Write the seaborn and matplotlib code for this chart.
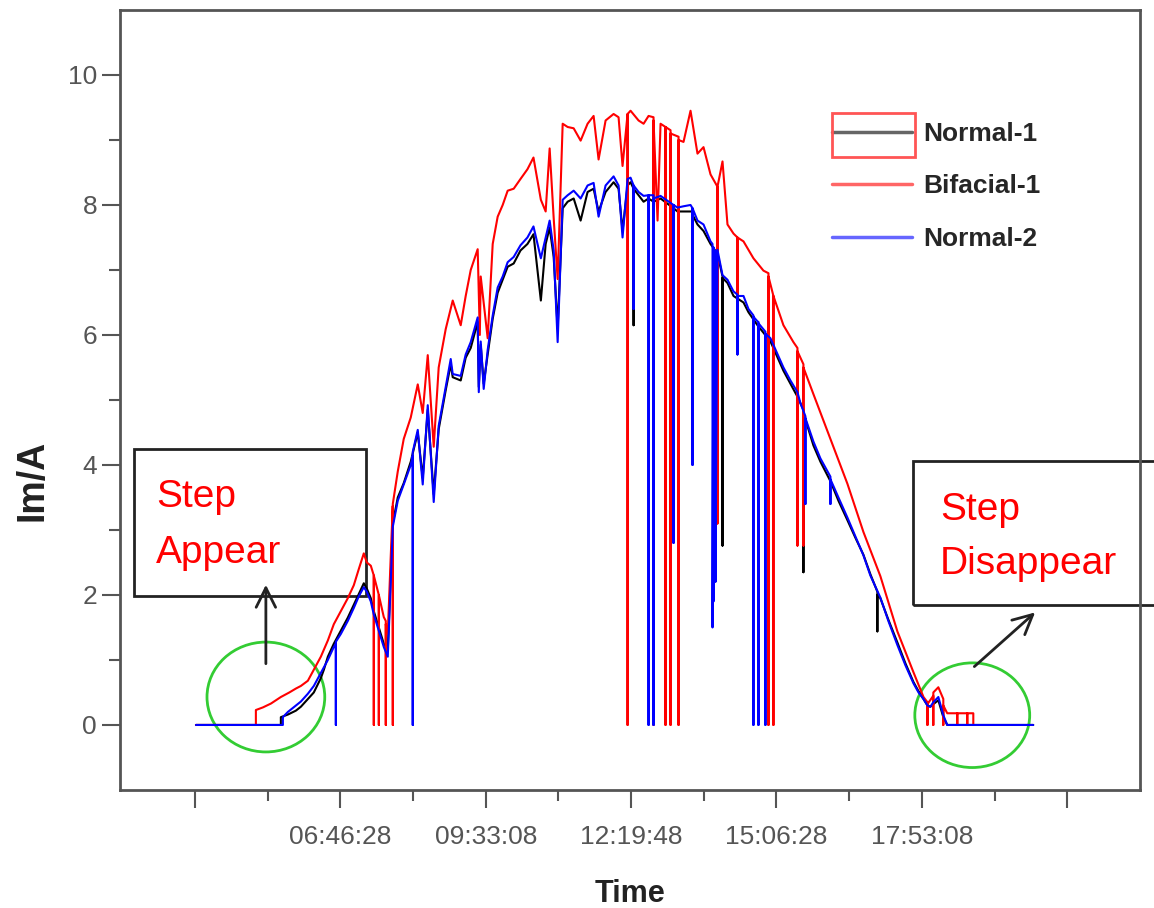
import matplotlib
matplotlib.use("Agg")
import matplotlib.pyplot as plt
from matplotlib.patches import Rectangle, Ellipse
from matplotlib.lines import Line2D
from matplotlib.ticker import FixedLocator
import pandas as pd
import seaborn as sns

# (time in decimal hours, Im in A)
normal1 = [
    (4.016, 0), (5.638, 0), (5.638, 0.12), (5.772, 0.16), (5.925, 0.22), (6.020, 0.28),
    (6.154, 0.40), (6.268, 0.50), (6.402, 0.72), (6.460, 0.85), (6.536, 1.05), (6.650, 1.25),
    (6.784, 1.45), (6.917, 1.65), (7.032, 1.85), (7.128, 2.02), (7.223, 2.18), (7.280, 2.10),
    (7.357, 1.95), (7.414, 1.75), (7.510, 1.50), (7.605, 1.25), (7.681, 1.15), (7.738, 2.30),
    (7.777, 3.10), (7.872, 3.50), (7.986, 3.72), (8.120, 4.05), (8.254, 4.50), (8.349, 3.80),
    (8.445, 4.85), (8.559, 3.55), (8.654, 4.55), (8.788, 5.15), (8.884, 5.55), (8.922, 5.35),
    (9.075, 5.30), (9.170, 5.65), (9.266, 5.80), (9.399, 6.20), (9.420, 5.20), (9.457, 5.85),
    (9.514, 5.25), (9.590, 5.70), (9.686, 6.25), (9.781, 6.65), (9.877, 6.85), (9.972, 7.05),
    (10.087, 7.10), (10.217, 7.30), (10.350, 7.40), (10.465, 7.55), (10.606, 6.53), (10.698, 7.40),
    (10.774, 7.65), (10.851, 7.20), (10.927, 6.10), (11.023, 7.95), (11.118, 8.05), (11.233, 8.10),
    (11.366, 7.76), (11.499, 8.20), (11.614, 8.25), (11.709, 7.90), (11.843, 8.20), (11.996, 8.35),
    (12.091, 8.25), (12.167, 7.60), (12.263, 8.30), (12.320, 8.35), (12.378, 8.25), (12.378, 6.15),
    (12.378, 8.25), (12.473, 8.15), (12.569, 8.05), (12.664, 8.10), (12.759, 8.05), (12.893, 8.10),
    (13.141, 7.95), (13.141, 6.20), (13.141, 7.95), (13.217, 7.90), (13.332, 7.90), (13.466, 7.90),
    (13.504, 7.90), (13.504, 6.60), (13.504, 7.85), (13.599, 7.70), (13.714, 7.60), (13.848, 7.40),
    (13.981, 7.25), (14.077, 6.90), (14.077, 2.76), (14.077, 6.88), (14.172, 6.80), (14.287, 6.60),
    (14.478, 6.50), (14.573, 6.35), (14.745, 6.15), (14.993, 5.90), (15.241, 5.45), (15.375, 5.25),
    (15.509, 5.05), (15.623, 4.85), (15.623, 2.35), (15.623, 4.80), (15.814, 4.30), (15.948, 4.05),
    (16.139, 3.75), (16.292, 3.45), (16.464, 3.15), (16.616, 2.88), (16.769, 2.62), (16.902, 2.32),
    (17.036, 2.05), (17.036, 1.44), (17.036, 2.00), (17.093, 1.95), (17.246, 1.62), (17.418, 1.27),
    (17.571, 0.95), (17.726, 0.66), (17.822, 0.52), (17.917, 0.40), (17.993, 0.30), (18.048, 0.28),
    (18.105, 0.32), (18.201, 0.38), (18.296, 0.12), (18.371, 0), (20.014, 0),
]

bifacial1 = [
    (4.016, 0), (5.161, 0), (5.161, 0.23), (5.295, 0.27), (5.450, 0.33), (5.638, 0.43),
    (5.800, 0.50), (5.925, 0.56), (6.020, 0.60), (6.154, 0.68), (6.268, 0.85), (6.402, 1.05),
    (6.536, 1.30), (6.650, 1.55), (6.784, 1.75), (6.917, 1.95), (7.032, 2.15), (7.128, 2.40),
    (7.223, 2.64), (7.280, 2.50), (7.357, 2.45), (7.414, 2.30), (7.414, 0), (7.414, 2.30),
    (7.510, 2.00), (7.510, 0), (7.510, 2.00), (7.605, 1.66), (7.643, 1.60), (7.643, 0),
    (7.643, 1.55), (7.681, 1.40), (7.738, 2.60), (7.777, 3.37), (7.777, 0), (7.777, 3.40),
    (7.872, 3.90), (7.986, 4.40), (8.120, 4.73), (8.254, 5.24), (8.349, 4.80), (8.445, 5.69),
    (8.559, 4.28), (8.654, 5.50), (8.788, 6.09), (8.922, 6.53), (9.075, 6.15), (9.170, 6.60),
    (9.266, 7.00), (9.399, 7.32), (9.440, 6.00), (9.457, 6.90), (9.590, 5.95), (9.686, 7.40),
    (9.781, 7.82), (9.877, 8.00), (9.972, 8.22), (10.087, 8.25), (10.217, 8.40), (10.350, 8.55),
    (10.465, 8.73), (10.606, 8.08), (10.698, 7.90), (10.774, 8.87), (10.851, 7.80), (10.927, 6.86),
    (11.023, 9.25), (11.118, 9.20), (11.233, 9.18), (11.366, 8.99), (11.499, 9.25), (11.614, 9.37),
    (11.709, 8.70), (11.843, 9.30), (11.996, 9.40), (12.091, 9.35), (12.167, 8.60), (12.263, 9.40),
    (12.263, 0), (12.263, 9.40), (12.320, 9.45), (12.473, 9.30), (12.569, 9.25), (12.664, 9.37),
    (12.759, 9.35), (12.759, 0), (12.759, 9.30), (12.836, 7.76), (12.893, 9.25), (12.988, 9.20),
    (12.988, 0), (12.988, 9.20), (13.084, 9.15), (13.084, 0), (13.084, 9.10), (13.237, 9.05),
    (13.237, 0), (13.237, 9.00), (13.332, 8.97), (13.466, 9.45), (13.599, 8.79), (13.714, 8.89),
    (13.848, 8.47), (13.981, 8.28), (13.981, 3.10), (13.981, 8.28), (14.077, 8.67), (14.172, 7.70),
    (14.287, 7.56), (14.363, 7.50), (14.363, 6.40), (14.363, 7.50), (14.478, 7.44), (14.668, 7.18),
    (14.859, 6.99), (14.955, 6.95), (14.955, 0), (14.955, 6.90), (15.050, 6.60), (15.050, 0),
    (15.050, 6.60), (15.241, 6.15), (15.432, 5.89), (15.509, 5.80), (15.509, 2.76), (15.509, 5.75),
    (15.623, 5.55), (15.623, 2.76), (15.623, 5.50), (15.814, 5.09), (16.139, 4.40), (16.464, 3.71),
    (16.769, 2.97), (17.093, 2.29), (17.418, 1.44), (17.726, 0.81), (17.917, 0.43), (17.993, 0.35),
    (17.993, 0), (17.993, 0.32), (18.105, 0.45), (18.105, 0), (18.105, 0.50), (18.201, 0.58),
    (18.296, 0.40), (18.296, 0), (18.296, 0.30), (18.371, 0.18), (18.563, 0.18), (18.563, 0),
    (18.563, 0.18), (18.754, 0.18), (18.754, 0), (18.754, 0.18), (18.869, 0.18), (18.869, 0),
]

normal2 = [
    (4.016, 0), (5.677, 0), (5.677, 0.12), (5.772, 0.20), (5.925, 0.30), (6.020, 0.36),
    (6.154, 0.48), (6.268, 0.60), (6.402, 0.80), (6.536, 1.00), (6.650, 1.20), (6.689, 1.25),
    (6.689, 0), (6.689, 1.28), (6.784, 1.40), (6.917, 1.60), (7.032, 1.80), (7.128, 1.98),
    (7.223, 2.12), (7.280, 2.05), (7.357, 1.90), (7.414, 1.70), (7.510, 1.45), (7.605, 1.20),
    (7.681, 1.05), (7.738, 2.20), (7.777, 3.05), (7.872, 3.45), (7.986, 3.70), (8.120, 4.00),
    (8.158, 4.14), (8.158, 0), (8.158, 4.20), (8.254, 4.54), (8.349, 3.70), (8.445, 4.92),
    (8.559, 3.43), (8.654, 4.60), (8.788, 5.20), (8.884, 5.63), (8.922, 5.40), (9.075, 5.37),
    (9.170, 5.70), (9.266, 5.89), (9.399, 6.27), (9.420, 5.12), (9.457, 5.90), (9.514, 5.17),
    (9.590, 5.77), (9.686, 6.30), (9.781, 6.73), (9.877, 6.90), (9.972, 7.12), (10.087, 7.20),
    (10.217, 7.38), (10.350, 7.50), (10.465, 7.67), (10.606, 7.18), (10.698, 7.50), (10.774, 7.76),
    (10.851, 7.30), (10.927, 5.89), (11.023, 8.08), (11.118, 8.15), (11.233, 8.22), (11.366, 8.10),
    (11.499, 8.30), (11.614, 8.34), (11.709, 7.82), (11.843, 8.30), (11.996, 8.44), (12.091, 8.30),
    (12.167, 7.50), (12.263, 8.40), (12.320, 8.42), (12.378, 8.30), (12.378, 6.40), (12.378, 8.30),
    (12.473, 8.20), (12.569, 8.14), (12.664, 8.15), (12.664, 0), (12.664, 8.15), (12.759, 8.15),
    (12.759, 0), (12.759, 8.10), (12.893, 8.14), (13.141, 8.00), (13.141, 2.80), (13.141, 8.00),
    (13.217, 7.96), (13.332, 7.98), (13.466, 8.00), (13.504, 7.95), (13.504, 4.00), (13.504, 7.95),
    (13.599, 7.76), (13.714, 7.70), (13.848, 7.44), (13.886, 7.40), (13.886, 1.50), (13.905, 7.35),
    (13.905, 1.90), (13.943, 7.30), (13.943, 2.20), (13.981, 7.31), (14.077, 6.92), (14.172, 6.85),
    (14.287, 6.67), (14.363, 6.62), (14.363, 5.70), (14.363, 6.60), (14.478, 6.60), (14.573, 6.40),
    (14.668, 6.30), (14.668, 0), (14.668, 6.28), (14.745, 6.21), (14.764, 6.20), (14.764, 0),
    (14.764, 6.18), (14.897, 6.05), (14.897, 0), (14.897, 6.02), (14.993, 5.95), (15.241, 5.50),
    (15.375, 5.30), (15.509, 5.12), (15.566, 4.95), (15.661, 4.75), (15.661, 3.40), (15.661, 4.72),
    (15.814, 4.36), (15.948, 4.10), (16.139, 3.82), (16.139, 3.40), (16.139, 3.78), (16.292, 3.50),
    (16.464, 3.19), (16.616, 2.90), (16.769, 2.61), (16.902, 2.30), (17.093, 1.96), (17.246, 1.60),
    (17.418, 1.23), (17.571, 0.92), (17.726, 0.64), (17.822, 0.50), (17.917, 0.40), (17.993, 0.30),
    (18.048, 0.28), (18.105, 0.35), (18.201, 0.43), (18.296, 0.15), (18.371, 0), (20.014, 0),
]

series_names = ["Normal-1", "Bifacial-1", "Normal-2"]
series_colors = ["black", "#ff0000", "#0000ff"]
tick_times = ["03:59:48", "06:46:28", "09:33:08", "12:19:48", "15:06:28", "17:53:08", "20:39:48"]

frames = []
for name, pts in zip(series_names, [normal1, bifacial1, normal2]):
    d = pd.DataFrame(pts, columns=["time", "current"])
    d["series"] = name
    frames.append(d)
df = pd.concat(frames, ignore_index=True)

sns.set_theme(style="ticks")
plt.rcParams["font.family"] = ["Liberation Sans", "DejaVu Sans"]

fig = plt.figure(figsize=(11.54, 9.08), dpi=100)
ax = fig.add_axes([0.104, 0.130, 0.884, 0.859])

sns.lineplot(data=df, x="time", y="current", hue="series", hue_order=series_names,
             palette=dict(zip(series_names, series_colors)), sort=False,
             estimator=None, linewidth=1.5, legend=False, ax=ax)

ax.set_xlim(2.565, 22.057)
ax.set_ylim(-1, 11)

# ticks
tick_pos = list(pd.to_timedelta(tick_times).total_seconds() / 3600)
minor_pos = [(a + b) / 2 for a, b in zip(tick_pos[:-1], tick_pos[1:])]
ax.xaxis.set_major_locator(FixedLocator(tick_pos))
ax.xaxis.set_minor_locator(FixedLocator(minor_pos))
ax.set_xticklabels([""] + tick_times[1:-1] + [""])
ax.set_yticks([0, 2, 4, 6, 8, 10])
ax.yaxis.set_minor_locator(FixedLocator([1, 3, 5, 7, 9]))

for s in ax.spines.values():
    s.set_visible(True)
    s.set_color("#555555")
    s.set_linewidth(2)
ax.tick_params(which="major", length=13, width=1.5, color="#555555",
               labelsize=19, labelcolor="#555555", direction="out")
ax.tick_params(which="minor", length=8, width=1.5, color="#555555", direction="out")
ax.tick_params(axis="x", pad=12)

ax.set_xlabel("Time", fontsize=22, fontweight="bold", color="#222222", labelpad=22)
ax.set_ylabel("Im/A", fontsize=27, fontweight="bold", color="#222222")
ax.yaxis.set_label_coords(-0.068, 0.397)

# legend
handles = [Line2D([], [], color=c, lw=2.5, alpha=0.6) for c in series_colors]
leg = ax.legend(handles, series_names, loc="upper left", bbox_to_anchor=(0.675, 0.887),
                frameon=False, handlelength=3.0, handletextpad=0.45, labelspacing=1.08,
                prop={"size": 19, "weight": "bold"})
fig.add_artist(Rectangle((832 / 1154, 1 - 157 / 908), 83 / 1154, 44 / 908,
                         transform=fig.transFigure, fill=False, ec="#ff5555", lw=2))

# annotation boxes
ax.add_patch(Rectangle((2.832, 1.99), 4.429, 2.26, fill=False, ec="#222222", lw=2))
ax.add_patch(Rectangle((17.723, 1.84), 4.62, 2.22, fill=False, ec="#222222", lw=2,
                       clip_on=False))
ax.text(3.252, 3.50, "Step", color="red", fontsize=28, va="center")
ax.text(3.252, 2.64, "Appear", color="red", fontsize=28, va="center")
ax.text(18.236, 3.30, "Step", color="red", fontsize=28, va="center")
ax.text(18.236, 2.48, "Disappear", color="red", fontsize=28, va="center")

ax.add_patch(Ellipse((5.352, 0.43), 2.25, 1.69, fill=False, ec="#33cc33", lw=2))
ax.add_patch(Ellipse((18.849, 0.15), 2.195, 1.61, fill=False, ec="#33cc33", lw=2))

arrow = dict(arrowstyle="->", color="#222222", lw=2, mutation_scale=35)
ax.annotate("", xy=(5.352, 2.2), xytext=(5.352, 0.9), arrowprops=arrow)
ax.annotate("", xy=(20.09, 1.76), xytext=(18.849, 0.87), arrowprops=arrow)

fig.savefig("out.png", dpi=100)
